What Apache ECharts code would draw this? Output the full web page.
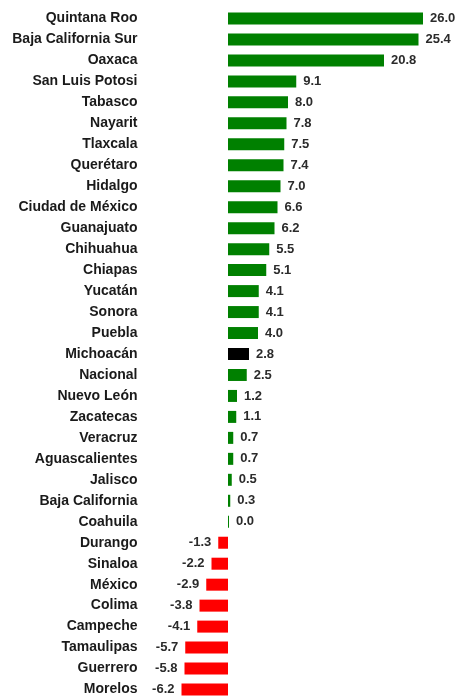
<!DOCTYPE html>
<html><head><meta charset="utf-8">
<script src="https://cdn.jsdelivr.net/npm/echarts@6/dist/echarts.min.js"></script>
<style>html,body{margin:0;padding:0;background:#fff}#c{width:460px;height:700px}</style>
</head><body><div id="c"></div>
<script>
const categories = ["Quintana Roo","Baja California Sur","Oaxaca","San Luis Potosi","Tabasco","Nayarit","Tlaxcala","Querétaro","Hidalgo","Ciudad de México","Guanajuato","Chihuahua","Chiapas","Yucatán","Sonora","Puebla","Michoacán","Nacional","Nuevo León","Zacatecas","Veracruz","Aguascalientes","Jalisco","Baja California","Coahuila","Durango","Sinaloa","México","Colima","Campeche","Tamaulipas","Guerrero","Morelos"];
const values = [26.0,25.4,20.8,9.1,8.0,7.8,7.5,7.4,7.0,6.6,6.2,5.5,5.1,4.1,4.1,4.0,2.8,2.5,1.2,1.1,0.7,0.7,0.5,0.3,0.0,-1.3,-2.2,-2.9,-3.8,-4.1,-5.7,-5.8,-6.2];
const highlighted = ["Michoacán"];
const colPos = "#008000", colNeg = "#FF0000", colHi = "#000000";

const data = values.map((v, i) => ({
  value: v,
  itemStyle: { color: highlighted.includes(categories[i]) ? colHi : (v < 0 ? colNeg : colPos) },
  label: { position: v < 0 ? 'left' : 'right' }
}));

const chart = echarts.init(document.getElementById('c'));
chart.setOption({
  animation: false,
  grid: { left: 145.5, right: 7, top: 8, bottom: 0, containLabel: false },
  xAxis: { type: 'value', min: -11, max: 30, show: false },
  yAxis: {
    type: 'category', data: categories, inverse: true,
    axisLine: { show: false }, axisTick: { show: false },
    axisLabel: { margin: 8, color: '#1a1a1a', fontFamily: 'Liberation Sans, Arial, sans-serif', fontWeight: 'bold', fontSize: 14 }
  },
  series: [{
    type: 'bar', data: data, barWidth: 12, barMinHeight: 1,
    label: {
      show: true, distance: 7, color: '#2b2b2b',
      fontFamily: 'Liberation Sans, Arial, sans-serif', fontWeight: 'bold', fontSize: 13,
      formatter: p => p.value.toFixed(1)
    }
  }]
});
</script></body></html>
